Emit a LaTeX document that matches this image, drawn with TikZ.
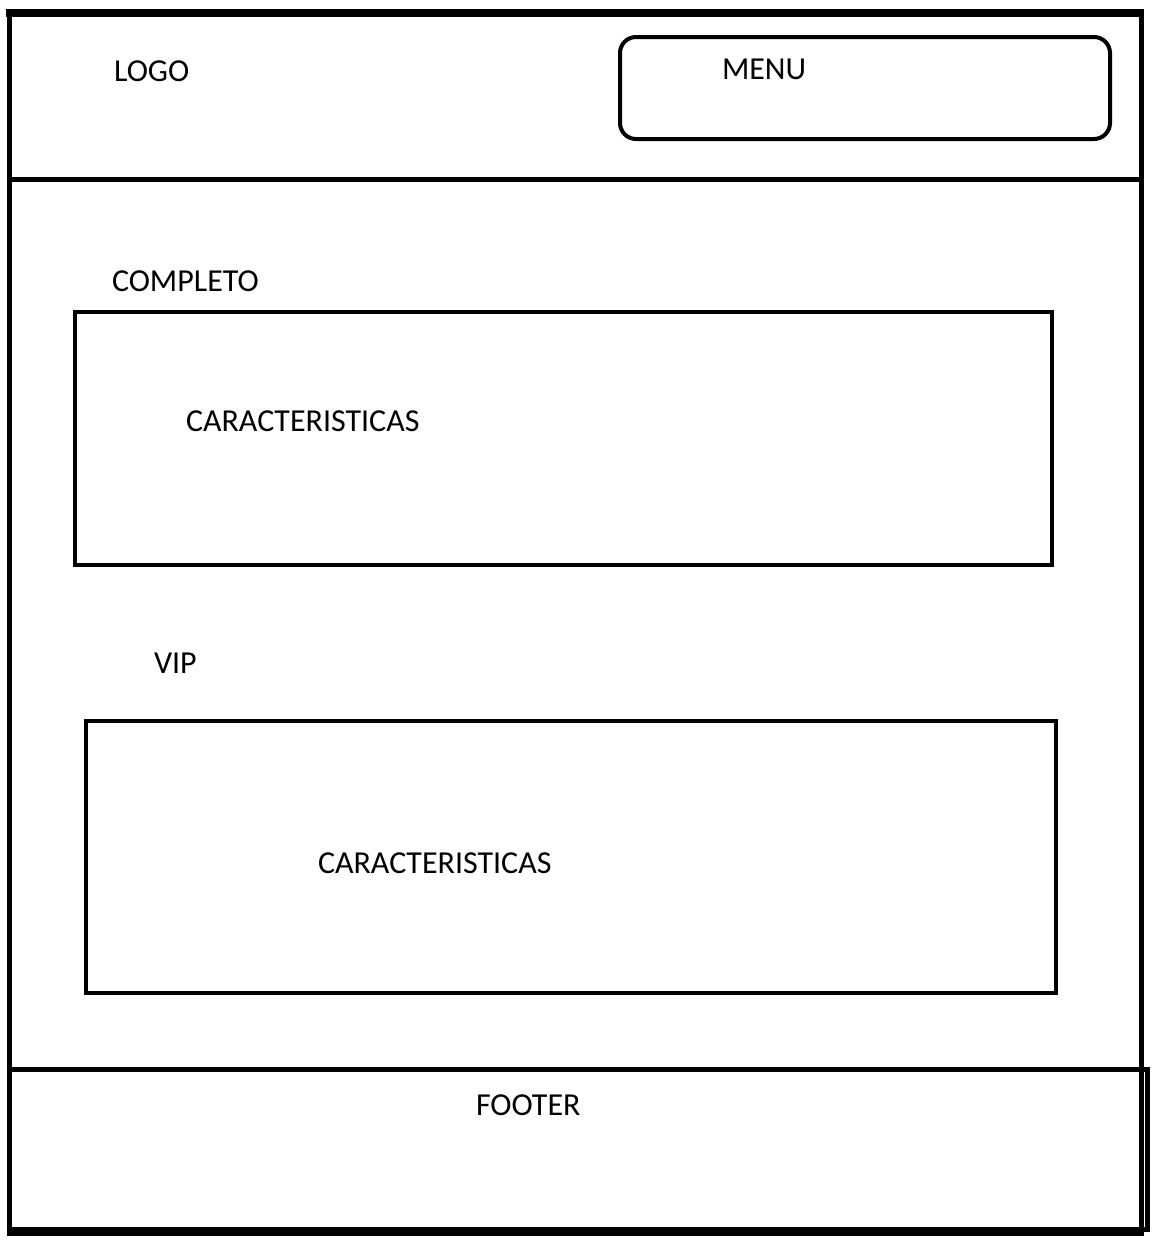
\documentclass[tikz,border=0pt]{standalone}
\usepackage{fontspec}
\setmainfont{Carlito}
\begin{document}
\begin{tikzpicture}[x=1pt,y=-1pt,
  lbl/.style={anchor=base west,inner sep=0pt,outer sep=0pt,font=\fontsize{32}{36}\selectfont},
  boxrect/.style={draw,line width=4pt,inner sep=0pt,outer sep=0pt},
  frameline/.style={line width=5pt}]
\useasboundingbox[fill=white] (0,0) rectangle (1152,1250);
% outer frame
\draw[frameline,line width=5.5pt] (9.5,13) -- (9.5,1231) (1141.5,13) -- (1141.5,1231);
\draw[line width=8pt] (5.5,13) -- (1143.5,13);
\draw[frameline] (9.5,179.5) -- (1141.5,179.5);
% footer
\node[boxrect,line width=5pt,minimum width=1138pt,minimum height=160pt] (footer) at (578,1149.5) {};
\draw[line width=9pt] (7,1231.5) -- (1144,1231.5);
% menu
\node[boxrect,rounded corners=16pt,minimum width=490pt,minimum height=102pt] (menu) at (865,88) {};
% content boxes
\node[boxrect,minimum width=977pt,minimum height=253pt] (box1) at (563.5,438.5) {};
\node[boxrect,minimum width=970pt,minimum height=272pt] (box2) at (570.5,857) {};
% labels
\node[lbl] (logo) at (114,81) {LOGO};
\node[lbl] (menut) at (722,79) {MENU};
\node[lbl] (completo) at (112,291) {COMPLETO};
\node[lbl] (car1) at (186,431) {CARACTERISTICAS};
\node[lbl] (vip) at (154,673) {VIP};
\node[lbl] (car2) at (318,873) {CARACTERISTICAS};
\node[lbl] (footert) at (476,1115) {FOOTER};
\end{tikzpicture}
\end{document}
